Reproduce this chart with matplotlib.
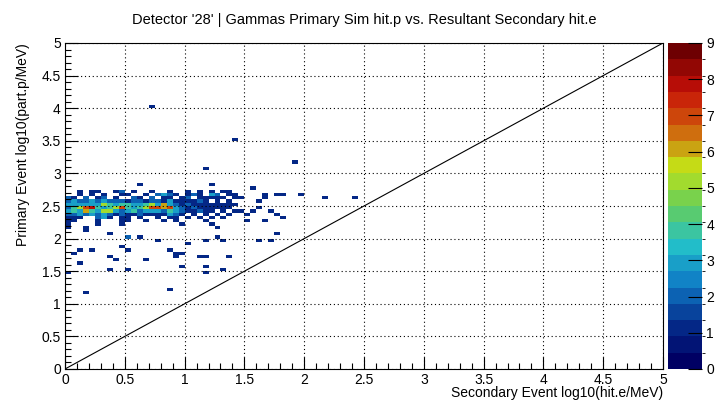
import numpy as np
import matplotlib.pyplot as plt
from matplotlib.colors import LinearSegmentedColormap, ListedColormap, BoundaryNorm
from matplotlib.ticker import MultipleLocator, FormatStrFormatter

plt.rcParams['font.family'] = ['Liberation Sans', 'DejaVu Sans']

title = "Detector '28' | Gammas Primary Sim hit.p vs. Resultant Secondary hit.e"
x_title = "Secondary Event log10(hit.e/MeV)"
y_title = "Primary Event log10(part.p/MeV)"

# 100 x 100 bins over [0, 5] in both axes
n_bins = 100
axis_min, axis_max = 0.0, 5.0

# bin contents, one string per filled row: lower y edge of the row, then one
# char per x bin starting at x = 0 ('.' = empty, spaces only group by tens)
row_y = [4.00, 3.50, 3.15, 3.05, 2.80, 2.75, 2.70, 2.65, 2.60, 2.55, 2.50,
         2.45, 2.40, 2.35, 2.30, 2.25, 2.20, 2.15, 2.10, 2.05, 2.00, 1.95,
         1.90, 1.85, 1.80, 1.75, 1.70, 1.65, 1.60, 1.55, 1.50, 1.45, 1.20,
         1.15]
row_counts = [
    ".......... ....1",
    ".......... .......... ........1",
    ".......... .......... .......... ........1",
    ".......... .......... ...1",
    ".......... ..1....... ....1",
    ".......... .......... .......... .1",
    "..1.11..12 .1..1..1.. 1.1.1.11",
    "..1.1.1..1 1..1.2321. 121.32.11. ...1.11..1",
    "21.2.12.1. .21.2.11.1 2.11111.11 ...1...... ...1....1",
    "2322323222 1221221311 1121.1.1.. ..1",
    "3333335434 4334536321 211111111",
    "2457843457 4345776732 12111111.. ..1",
    "3436435532 3423332432 11211.1.11 .1..1",
    "2232323212 1121111321 .1.1.1.1.. 1....1",
    "111..231.1 1.1..1.11. 1.1.1.1... ......1",
    "11...1...1 1..1..1.1. ...1...... 1..1",
    "1....1...1 .........1 ....1",
    "1..1...... .......... .....1",
    "...1",
    ".......1.. .......... .......... .....1",
    ".......... 2.1....... .....1",
    ".......... .....1.... ...1..1... ..1.1",
    ".......... .......... 1",
    ".........1",
    "..1.1..... 1......1",
    ".1........ ........11",
    ".......1.. ........1. ..11...1",
    "........1. ...1",
    "..1",
    ".......... .........1 ...1",
    ".......1.. 1......... ......1",
    "1......... .......... ...1",
    ".......... .......1",
    "...1",
]

z_levels = 20
z_max = 9
z_ticks = list(range(10))

# ROOT kRainBow palette stops
palette_stops = [0.0, 0.125, 0.25, 0.375, 0.5, 0.625, 0.75, 0.875, 1.0]
palette_r = [0, 5, 15, 35, 102, 196, 208, 199, 110]
palette_g = [0, 48, 124, 192, 206, 226, 97, 16, 0]
palette_b = [99, 142, 198, 201, 90, 22, 13, 8, 2]

edges = np.linspace(axis_min, axis_max, n_bins + 1)
bw = (axis_max - axis_min) / n_bins
counts = np.zeros((n_bins, n_bins))
for y0, row in zip(row_y, row_counts):
    j = int(round(y0 / bw))
    for i, c in enumerate(row.replace(" ", "")):
        if c != ".":
            counts[j, i] = int(c)
counts = np.ma.masked_equal(counts, 0)

rainbow = LinearSegmentedColormap.from_list(
    "rainbow55",
    [(s, (r / 255, g / 255, b / 255))
     for s, r, g, b in zip(palette_stops, palette_r, palette_g, palette_b)])
cmap = ListedColormap(rainbow(np.linspace(0, 1, z_levels)))
norm = BoundaryNorm(np.linspace(0, z_max, z_levels + 1), z_levels)

fig = plt.figure(figsize=(7.21, 4.01), dpi=100)
ax = fig.add_axes([65 / 721, 32 / 401, 598 / 721, 326 / 401])
mesh = ax.pcolormesh(edges, edges, counts, cmap=cmap, norm=norm)
ax.plot([axis_min, axis_max], [axis_min, axis_max], color='k', lw=0.8)

ax.set_xlim(axis_min, axis_max)
ax.set_ylim(axis_min, axis_max)
for a in (ax.xaxis, ax.yaxis):
    a.set_major_locator(MultipleLocator(0.5))
    a.set_minor_locator(MultipleLocator(0.1))
    a.set_major_formatter(FormatStrFormatter('%g'))
ax.tick_params(which='major', direction='in', length=9, width=0.8, labelsize=10, pad=3)
ax.tick_params(which='minor', direction='in', length=4.5, width=0.8)
ax.grid(True, which='major', color='k', ls=(0, (1, 2.5)), lw=0.8)
ax.set_axisbelow(False)
for s in ax.spines.values():
    s.set_linewidth(0.8)

ax.set_title(title, fontsize=10.5, pad=14)
fig.text(663 / 721, (401 - 393) / 401, x_title, fontsize=10, ha='right', va='center')
ax.set_ylabel(y_title, fontsize=10, loc='top', labelpad=8)

cax = fig.add_axes([668 / 721, 32 / 401, 34 / 721, 326 / 401])
cb = fig.colorbar(mesh, cax=cax, ticks=z_ticks)
cb.outline.set_visible(False)
cb.ax.tick_params(direction='in', length=10, width=0.8, labelsize=10, pad=3)

fig.savefig("out.png", dpi=100)
